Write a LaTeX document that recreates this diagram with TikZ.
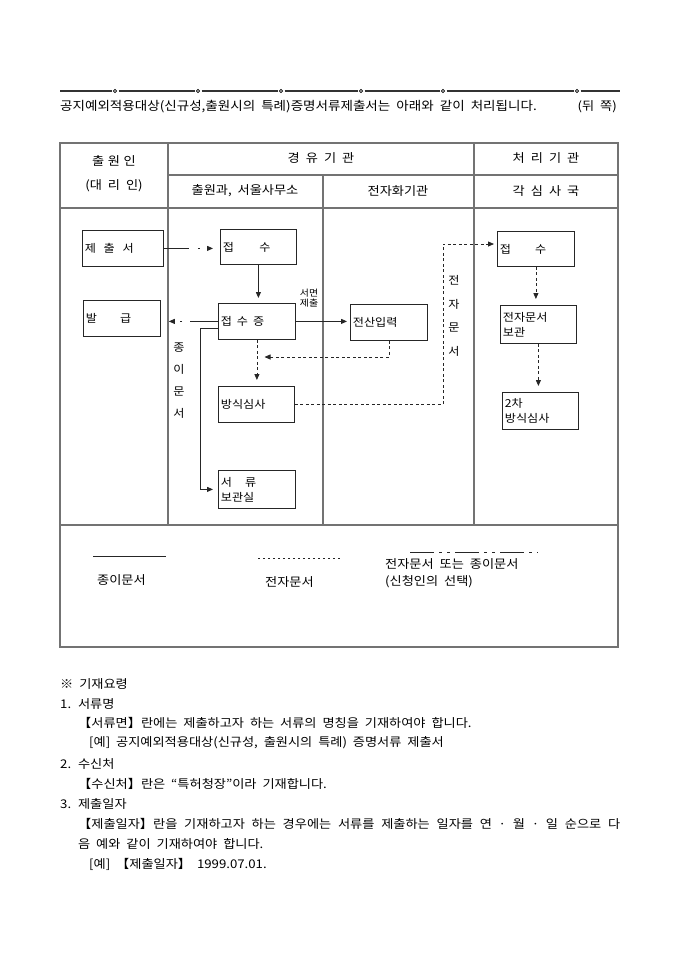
\documentclass[tikz,border=0pt]{standalone}
\usepackage{fontspec}
\setmainfont{Noto Sans CJK KR}[WordSpace=2, FakeStretch=1.1]
\usetikzlibrary{arrows.meta}
\newcommand\gp[1]{\hspace*{#1em}}
\begin{document}
\begin{tikzpicture}[x=1pt,y=-1pt,font=\fontsize{12}{14}\selectfont]
\tikzset{
  tbl/.style={draw=black!55, line width=1.2pt},
  box/.style={draw=black!85, line width=0.8pt, anchor=north west, inner xsep=2pt, inner ysep=0pt, align=left, font=\fontsize{11}{15}\selectfont},
  txt/.style={anchor=west, inner sep=0pt},
  ctr/.style={inner sep=0pt},
  paper/.style={draw=black!85, line width=0.8pt},
  elec/.style={draw=black!85, line width=0.8pt, dash pattern=on 3pt off 2.5pt},
  tip/.style={-{Triangle[length=6pt,width=5pt]}},
  topl/.style={draw=black!80, line width=1.1pt}
}
\useasboundingbox (0,0) rectangle (680,962);
\fill[white] (0,0) rectangle (680,962);

% top decorative line
\foreach \a/\b in {60/111.5,118.5/194.5,201.5/277.5,284.5/357.5,364.5/439.5,446.5/573.5,580.5/620}
  \draw[topl] (\a,91) -- (\b,91);
\foreach \c in {115,198,281,361,443,577}
  \draw[line width=0.6pt] (\c,91) circle (1.6pt);

\node[txt, font=\fontsize{12.3}{14}\selectfont] (title) at (60,107) {공지예외적용대상(신규성,출원시의 특례)증명서류제출서는 아래와 같이 처리됩니다.};
\node[anchor=east, inner sep=0pt] (dwi) at (617,107) {(뒤\gp{0.5}쪽)};

% table
\draw[tbl] (60,143) rectangle (618,647);
\draw[tbl] (168,175) -- (618,175);
\draw[tbl] (60,208) -- (618,208);
\draw[tbl] (168,143) -- (168,525);
\draw[tbl] (323,175) -- (323,525);
\draw[tbl] (474,143) -- (474,525);
\draw[tbl] (60,525) -- (618,525);

\node[ctr] (h1) at (114,161) {출\gp{0.3}원\gp{0.3}인};
\node[ctr] (h2) at (114,186) {(대\gp{0.5}리\gp{0.5}인)};
\node[ctr] (h3) at (321,158) {경\gp{0.5}유\gp{0.5}기\gp{0.5}관};
\node[ctr] (h4) at (546,158) {처\gp{0.5}리\gp{0.5}기\gp{0.5}관};
\node[ctr] (h5) at (245,191) {출원과, 서울사무소};
\node[ctr] (h6) at (398,191) {전자화기관};
\node[ctr] (h7) at (546,191) {각\gp{0.5}심\gp{0.5}사\gp{0.5}국};

% boxes
\node[box, minimum width=81pt, minimum height=36pt, text width=76pt] (jechul) at (82,230) {제\gp{0.7}출\gp{0.7}서};
\node[box, minimum width=76pt, minimum height=35pt, text width=71pt] (jeopsu1) at (220,229) {접\gp{2.3}수};
\node[box, minimum width=77pt, minimum height=36pt, text width=72pt] (balgeup) at (83,300) {발\gp{2.1}급};
\node[box, minimum width=77pt, minimum height=36pt, text width=72pt] (jjeung) at (218,303) {접\gp{0.45}수\gp{0.45}증};
\node[box, minimum width=77pt, minimum height=36pt, text width=72pt] (jeonsan) at (350,304) {전산입력};
\node[box, minimum width=76pt, minimum height=36pt, text width=71pt] (bangsik) at (218,386) {방식심사};
\node[box, minimum width=77pt, minimum height=38pt, text width=72pt] (bogwan) at (218,470) {서\gp{1.2}류\\보관실};
\node[box, minimum width=77pt, minimum height=35pt, text width=72pt] (jeopsu2) at (497,231) {접\gp{2.2}수};
\node[box, minimum width=76pt, minimum height=38pt, text width=71pt] (jmbo) at (500,305) {전자문서\\보관};
\node[box, minimum width=76pt, minimum height=37pt, text width=71pt] (second) at (502,392) {2차\\방식심사};

% labels
\node[ctr, align=center, font=\fontsize{9}{10}\selectfont] (seomyeon) at (309,298) {서면\\제출};
\node[ctr, align=center, font=\fontsize{11}{22}\selectfont] (jongi) at (179,381) {종\\이\\문\\서};
\node[ctr, align=center, font=\fontsize{11}{23.5}\selectfont] (jeonja) at (454,316) {전\\자\\문\\서};

% connectors
\coordinate (ret) at (256.5,357);
\coordinate (turn) at (443,244);
\draw[paper, tip, dash pattern=on 25pt off 9pt on 2pt off 20pt, shorten >=7pt] (jechul.east) -- (jechul.east -| jeopsu1.west);
\draw[paper, tip, shorten >=5pt] (jeopsu1.south) -- (jeopsu1.south |- jjeung.north);
\draw[paper, tip, dash pattern=on 28pt off 8pt on 2pt off 20pt, shorten >=8pt] (jjeung.west) -- (jjeung.west -| balgeup.east);
\draw[paper, tip, shorten >=3pt] (jjeung.east) -- (jjeung.east -| jeonsan.west);
\draw[elec, tip, shorten >=6pt] (jjeung.south) -- (jjeung.south |- bangsik.north);
\draw[elec, tip, shorten >=8pt] (jeonsan.south) |- (ret);
\draw[elec, tip, shorten >=3pt] (bangsik.east) -| (turn) -- (turn -| jeopsu2.west);
\draw[elec, tip, shorten >=6pt] (jeopsu2.south) -- (jeopsu2.south |- jmbo.north);
\draw[elec, tip, shorten >=6pt] (jmbo.south) -- (jmbo.south |- second.north);
\draw[paper, tip, shorten >=5pt] ([yshift=-7pt]jjeung.west) -- ++(-18,0) |- (bogwan.west);

% legend
\draw[paper] (93,556) -- (166,556);
\draw[black!85, line width=0.8pt, dash pattern=on 2pt off 3pt] (258,558) -- (342,558);
\draw[black!85, line width=0.9pt, dash pattern=on 24pt off 5pt on 3pt off 5pt on 3pt off 5pt] (410,552) -- (538,552);
\node[txt] (lg1) at (97,580) {종이문서};
\node[txt] (lg2) at (265,582) {전자문서};
\node[txt] (lg3) at (385,564) {전자문서 또는 종이문서};
\node[txt] (lg4) at (385,582) {(신청인의 선택)};

% notes
\node[txt] (n1) at (60,684) {※ 기재요령};
\node[txt] (n2) at (60,704) {1. 서류명};
\node[txt] (n3) at (78,723) {【서류면】란에는 제출하고자 하는 서류의 명칭을 기재하여야 합니다.};
\node[txt] (n4) at (89,743) {[예] 공지예외적용대상(신규성, 출원시의 특례) 증명서류 제출서};
\node[txt] (n5) at (60,764) {2. 수신처};
\node[txt] (n6) at (78,784) {【수신처】란은 “특허청장”이라 기재합니다.};
\node[txt] (n7) at (60,804) {3. 제출일자};
\node[txt] (n8) at (78,824) {\makebox[542pt][s]{【제출일자】란을 기재하고자 하는 경우에는 서류를 제출하는 일자를 연 · 월 · 일 순으로 다}};
\node[txt] (n9) at (78,844) {음 예와 같이 기재하여야 합니다.};
\node[txt] (n10) at (89,864) {[예] 【제출일자】 1999.07.01.};
\end{tikzpicture}
\end{document}
